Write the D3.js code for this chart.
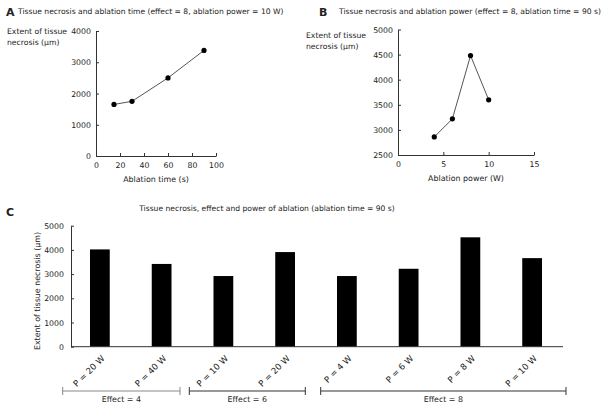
<!DOCTYPE html>
<html><head><meta charset="utf-8">
<script src="https://cdn.jsdelivr.net/npm/d3@7"></script>
<style>
body{margin:0;background:#fff;}
svg text{font-family:"DejaVu Sans",Verdana,sans-serif;fill:#222;}
</style></head>
<body><svg id="c" width="608" height="408"></svg>
<script>
// Panel A data
const timeX = [15, 30, 60, 90];
const timeY = [1650, 1750, 2500, 3380];
const timeTicksX = [0, 20, 40, 60, 80, 100];
const timeTicksY = [0, 1000, 2000, 3000, 4000];
// Panel B data
const powerX = [4, 6, 8, 10];
const powerY = [2860, 3220, 4480, 3600];
const powerTicksX = [0, 5, 10, 15];
const powerTicksY = [2500, 3000, 3500, 4000, 4500, 5000];
// Panel C data
const barLabels = ["P = 20 W","P = 40 W","P = 10 W","P = 20 W","P = 4 W","P = 6 W","P = 8 W","P = 10 W"];
const barValues = [4020, 3420, 2920, 3910, 2920, 3220, 4520, 3660];
const barTicksY = [0, 1000, 2000, 3000, 4000, 5000];
const effectGroups = ["Effect = 4", "Effect = 6", "Effect = 8"];

const svg = d3.select("#c");
const axisColor = "#333";
const fs = 7.8;
const fmt = d3.format("d");

function styleAxis(g){
  g.selectAll("path").attr("stroke", axisColor).attr("stroke-width", 1);
  g.selectAll("line").attr("stroke", axisColor);
  g.selectAll("text").attr("font-size", fs).attr("font-family", "DejaVu Sans, Verdana, sans-serif").attr("fill", "#222");
}

function linePanel(o){
  const x = d3.scaleLinear().domain(o.xd).range(o.xr);
  const y = d3.scaleLinear().domain(o.yd).range(o.yr);
  const gx = svg.append("g").attr("transform", `translate(0,${o.yr[0]})`)
    .call(d3.axisBottom(x).tickValues(o.xt).tickFormat(fmt).tickSizeInner(-3).tickSizeOuter(0).tickPadding(6));
  styleAxis(gx);
  const gy = svg.append("g").attr("transform", `translate(${o.xr[0]},0)`)
    .call(d3.axisLeft(y).tickValues(o.yt).tickFormat(fmt).tickSizeInner(-3).tickSizeOuter(0).tickPadding(5));
  styleAxis(gy);
  const pts = o.xs.map((v, i) => [v, o.ys[i]]);
  svg.append("path").datum(pts)
    .attr("d", d3.line().x(d => x(d[0])).y(d => y(d[1])))
    .attr("fill", "none").attr("stroke", "#555").attr("stroke-width", 1);
  svg.append("g").selectAll("circle").data(pts).join("circle")
    .attr("cx", d => x(d[0])).attr("cy", d => y(d[1])).attr("r", 2.6).attr("fill", "#000");
  svg.append("text").attr("x", (o.xr[0] + o.xr[1]) / 2).attr("y", o.yr[0] + 26)
    .attr("text-anchor", "middle").attr("font-size", 7.9).text(o.xlabel);
  const yl = svg.append("text").attr("x", o.ylx).attr("y", o.yly).attr("font-size", 7.7);
  yl.append("tspan").attr("x", o.ylx).attr("dy", 0).text("Extent of tissue");
  yl.append("tspan").attr("x", o.ylx).attr("dy", 11).text("necrosis (\u00b5m)");
  svg.append("text").attr("x", o.lx).attr("y", 16).attr("font-size", 11).attr("font-weight", "bold").text(o.letter);
  svg.append("text").attr("x", o.tx).attr("y", 14).attr("font-size", 7.6).text(o.title);
}

linePanel({
  xd: [0, 100], xr: [96, 216], yd: [0, 4000], yr: [156, 31],
  xt: timeTicksX, yt: timeTicksY, xs: timeX, ys: timeY,
  xlabel: "Ablation time (s)", ylx: 7, yly: 34, letter: "A", lx: 6, tx: 18,
  title: "Tissue necrosis and ablation time (effect = 8, ablation power = 10 W)"
});
linePanel({
  xd: [0, 15], xr: [398, 534], yd: [2500, 5000], yr: [155, 29.5],
  xt: powerTicksX, yt: powerTicksY, xs: powerX, ys: powerY,
  xlabel: "Ablation power (W)", ylx: 306, yly: 38, letter: "B", lx: 319, tx: 339,
  title: "Tissue necrosis and ablation power (effect = 8, ablation time = 90 s)"
});

// Panel C
const xb = d3.scaleBand().domain(d3.range(barValues.length)).range([69, 563]).padding(0.68).paddingOuter(0.34);
const yb = d3.scaleLinear().domain([0, 5000]).range([346.7, 225.7]);
svg.append("text").attr("x", 6).attr("y", 216).attr("font-size", 11).attr("font-weight", "bold").text("C");
svg.append("text").attr("x", 267).attr("y", 211).attr("text-anchor", "middle").attr("font-size", 7.6)
  .text("Tissue necrosis, effect and power of ablation (ablation time = 90 s)");
svg.append("g").selectAll("rect").data(barValues).join("rect")
  .attr("x", (d, i) => xb(i)).attr("width", xb.bandwidth())
  .attr("y", d => yb(d)).attr("height", d => yb(0) - yb(d)).attr("fill", "#000");
const gyc = svg.append("g").attr("transform", "translate(71,0)")
  .call(d3.axisLeft(yb).tickValues(barTicksY).tickFormat(fmt).tickSizeInner(-3).tickSizeOuter(0).tickPadding(7));
styleAxis(gyc);
svg.append("line").attr("x1", 71).attr("x2", 563).attr("y1", yb(0)).attr("y2", yb(0)).attr("stroke", axisColor);
svg.append("text").attr("transform", "translate(40,291) rotate(-90)").attr("text-anchor", "middle")
  .attr("font-size", 7.9).text("Extent of tissue necrosis (\u00b5m)");
svg.append("g").selectAll("text").data(barLabels).join("text")
  .attr("transform", (d, i) => `translate(${xb(i) + xb.bandwidth() / 2 + 1},${yb(0) + 8}) rotate(-45)`)
  .attr("text-anchor", "end").attr("dy", "0.7em").attr("font-size", 8.6).text(d => d);
const bracketY = 391;
const bracketX = [[62.7, 180], [189.3, 305.3], [320.7, 566]];
effectGroups.forEach((lab, gi) => {
  const [a, b] = bracketX[gi];
  const col = gi === 0 ? "#888" : "#333";
  const g = svg.append("g").attr("stroke", col).attr("stroke-width", 1);
  g.append("line").attr("x1", a).attr("x2", b).attr("y1", bracketY).attr("y2", bracketY);
  g.append("line").attr("x1", a).attr("x2", a).attr("y1", bracketY - 4).attr("y2", bracketY + 4);
  g.append("line").attr("x1", b).attr("x2", b).attr("y1", bracketY - 4).attr("y2", bracketY + 4);
  svg.append("text").attr("x", (a + b) / 2).attr("y", 402).attr("text-anchor", "middle")
    .attr("font-size", 7.9).text(lab);
});
</script></body></html>
